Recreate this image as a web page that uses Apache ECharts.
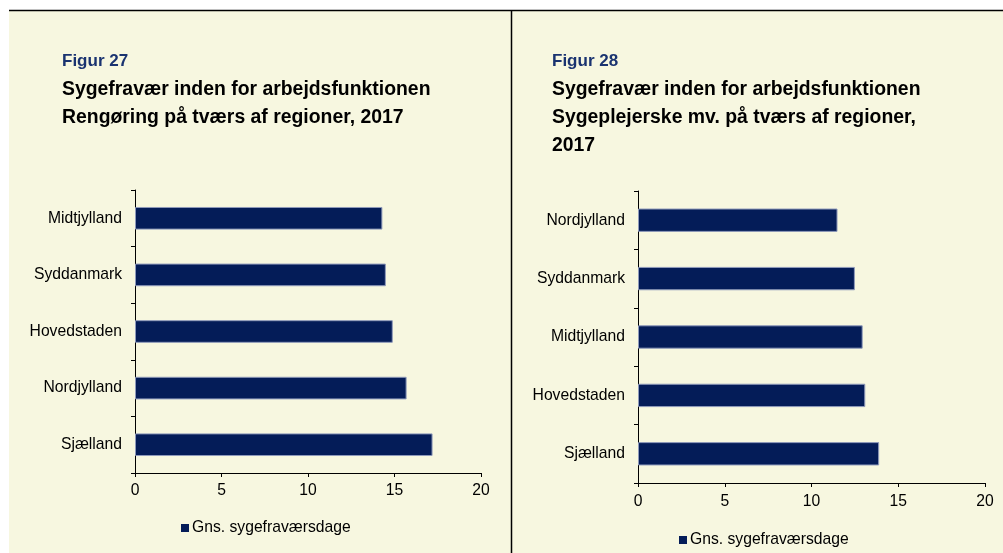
<!DOCTYPE html>
<html>
<head>
<meta charset="utf-8">
<script src="https://cdn.jsdelivr.net/npm/echarts@6/dist/echarts.min.js"></script>
<style>
  html, body { margin: 0; padding: 0; background: #fff; }
  #main { width: 1003px; height: 553px; }
</style>
</head>
<body>
<div id="main"></div>
<script>
// Figur 27 - Rengøring
const regionsLeft = ['Midtjylland', 'Syddanmark', 'Hovedstaden', 'Nordjylland', 'Sjælland']
const valuesLeft = [14.3, 14.5, 14.9, 15.7, 17.2]
// Figur 28 - Sygeplejerske mv.
const regionsRight = ['Nordjylland', 'Syddanmark', 'Midtjylland', 'Hovedstaden', 'Sjælland']
const valuesRight = [11.5, 12.5, 12.95, 13.1, 13.9]
const xTicks = [0, 5, 10, 15, 20]
const seriesName = 'Gns. sygefraværsdage'

const font = 'Liberation Sans, Arial, sans-serif'
const bg = '#f7f7e0'
const barColor = '#041c58'
const labelSize = 15.7

const chart = echarts.init(document.getElementById('main'))

// akse-opsætning deles af begge figurer
function valueAxis(gridIndex, margin) {
  return {
    type: 'value',
    gridIndex: gridIndex,
    min: xTicks[0],
    max: xTicks[xTicks.length - 1],
    interval: xTicks[1] - xTicks[0],
    axisLine: { show: true, lineStyle: { color: '#000', width: 1 } },
    axisTick: { show: true, length: 4, lineStyle: { color: '#000' } },
    axisLabel: { color: '#000', fontSize: labelSize, fontFamily: font, margin: margin },
    splitLine: { show: false }
  }
}
function categoryAxis(gridIndex, data) {
  return {
    type: 'category',
    gridIndex: gridIndex,
    data: data,
    inverse: true,
    axisLine: { show: true, lineStyle: { color: '#000', width: 1 } },
    axisTick: { show: true, length: 4, lineStyle: { color: '#000' } },
    axisLabel: { color: '#000', fontSize: labelSize, fontFamily: font, margin: 13 }
  }
}
function barSeries(i, data) {
  return {
    name: seriesName,
    type: 'bar',
    xAxisIndex: i,
    yAxisIndex: i,
    data: data,
    barCategoryGap: '60%',
    itemStyle: { color: barColor, borderColor: '#8f9abb', borderWidth: 1 }
  }
}
function legendAt(left, top) {
  return {
    data: [seriesName], left: left, top: top, padding: 0,
    icon: 'rect', itemWidth: 8, itemHeight: 8,
    itemStyle: { borderWidth: 0 },
    textStyle: { color: '#000', fontSize: labelSize, fontFamily: font, padding: [0, 0, 0, -2] }
  }
}

chart.setOption({
  backgroundColor: '#fff',
  animation: false,
  graphic: [
    { type: 'rect', shape: { x: 9, y: 10, width: 994, height: 543 }, style: { fill: bg }, z: -10 },
    { type: 'line', shape: { x1: 9, y1: 10.5, x2: 1003, y2: 10.5 }, style: { stroke: '#000', lineWidth: 1.5 } },
    { type: 'line', shape: { x1: 511.5, y1: 10, x2: 511.5, y2: 553 }, style: { stroke: '#000', lineWidth: 1.5 } }
  ],
  title: [
    {
      text: 'Figur 27', left: 57, top: 48,
      textStyle: { color: '#1a3370', fontSize: 17, fontWeight: 'bold', fontFamily: font }
    },
    {
      text: 'Sygefravær inden for arbejdsfunktionen\nRengøring på tværs af regioner, 2017',
      left: 57, top: 71,
      textStyle: { color: '#000', fontSize: 19.4, fontWeight: 'bold', fontFamily: font, lineHeight: 28 }
    },
    {
      text: 'Figur 28', left: 547, top: 48,
      textStyle: { color: '#1a3370', fontSize: 17, fontWeight: 'bold', fontFamily: font }
    },
    {
      text: 'Sygefravær inden for arbejdsfunktionen\nSygeplejerske mv. på tværs af regioner,\n2017',
      left: 547, top: 71,
      textStyle: { color: '#000', fontSize: 19.4, fontWeight: 'bold', fontFamily: font, lineHeight: 28 }
    }
  ],
  legend: [legendAt(181, 520), legendAt(679, 532)],
  grid: [
    { left: 135, top: 190, width: 346, height: 283 },
    { left: 638, top: 191, width: 347, height: 292 }
  ],
  xAxis: [valueAxis(0, 10), valueAxis(1, 11)],
  yAxis: [categoryAxis(0, regionsLeft), categoryAxis(1, regionsRight)],
  series: [barSeries(0, valuesLeft), barSeries(1, valuesRight)]
})
</script>
</body>
</html>
